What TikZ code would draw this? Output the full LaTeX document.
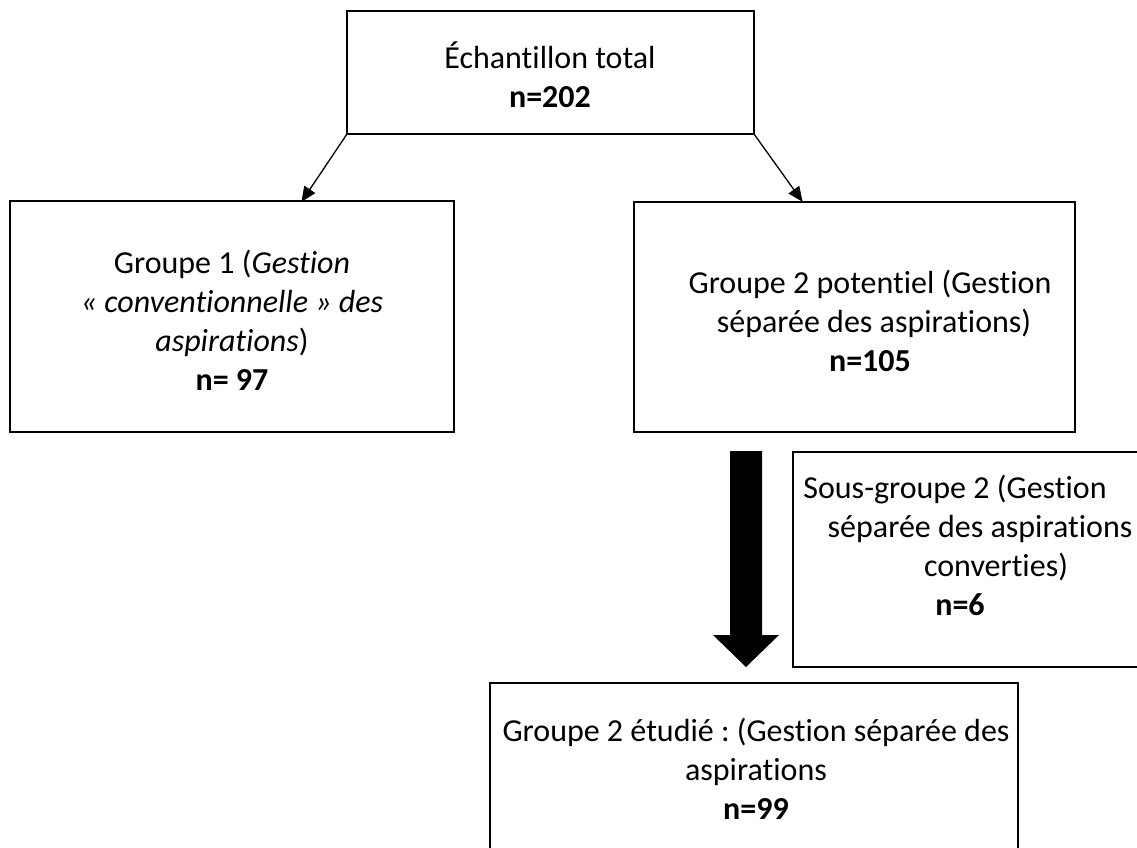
\documentclass[tikz,border=0pt]{standalone}
\usepackage{fontspec}
\setmainfont{Carlito}[Ligatures={NoCommon}]
\usetikzlibrary{arrows.meta}
\frenchspacing
\begin{document}
\begin{tikzpicture}[x=1pt,y=-1pt,
  box/.style={draw=black,line width=2.4pt,rectangle,inner sep=0pt,outer sep=0pt},
  txt/.style={align=center,inner sep=0pt,font=\fontsize{32}{39}\selectfont},
  thin/.style={draw=black,line width=1.3pt,-{Triangle[length=15pt,width=13pt]},shorten >=-1pt}]
\useasboundingbox (0,0) rectangle (1137,848);
\clip (0,0) rectangle (1137,848);
\fill[white] (0,0) rectangle (1137,848);
% boxes
\node[box,minimum width=407pt,minimum height=123pt] (top) at (550.5,72.5) {};
\node[box,minimum width=444pt,minimum height=231pt] (g1) at (232,316.5) {};
\node[box,minimum width=441pt,minimum height=230pt] (g2) at (854.5,317) {};
\node[box,minimum width=407pt,minimum height=215pt] (sg) at (996.5,559.5) {};
\node[box,minimum width=528pt,minimum height=217pt] (g2e) at (754,791.5) {};
% texts
\node[txt] (ttop) at (550,75) {Échantillon total\\\textbf{n=202}};
\node[txt] (tg1) at (232,320) {Groupe 1 (\textit{Gestion}\\\textit{« conventionnelle » des}\\\textit{aspirations})\\\textbf{n= 97}};
\node[txt] (tg2) at (870,320.5) {Groupe 2 potentiel (Gestion\\\hspace*{8pt}séparée des aspirations)\\\textbf{n=105}};
\node[txt] (tsg) at (973,545.5) {\hspace*{-36pt}Sous-groupe 2 (Gestion\\\hspace*{14pt}séparée des aspirations\\\hspace*{46pt}converties)\\\hspace*{-26pt}\textbf{n=6}};
\node[txt] (tg2e) at (756,769) {Groupe 2 étudié : (Gestion séparée des\\aspirations\\\textbf{n=99}};
% thin arrows
\coordinate (a1) at (302,201);
\coordinate (a2) at (802,201);
\draw[thin] (top.south west) -- (a1);
\draw[thin] (top.south east) -- (a2);
% big arrow
\coordinate (bs) at (746,451);
\coordinate (bt) at (746,667);
\fill[black] (730,451) -- (762,451) -- (762,635) -- (779,635) -- (bt) -- (713,635) -- (730,635) -- cycle;
\end{tikzpicture}
\end{document}
